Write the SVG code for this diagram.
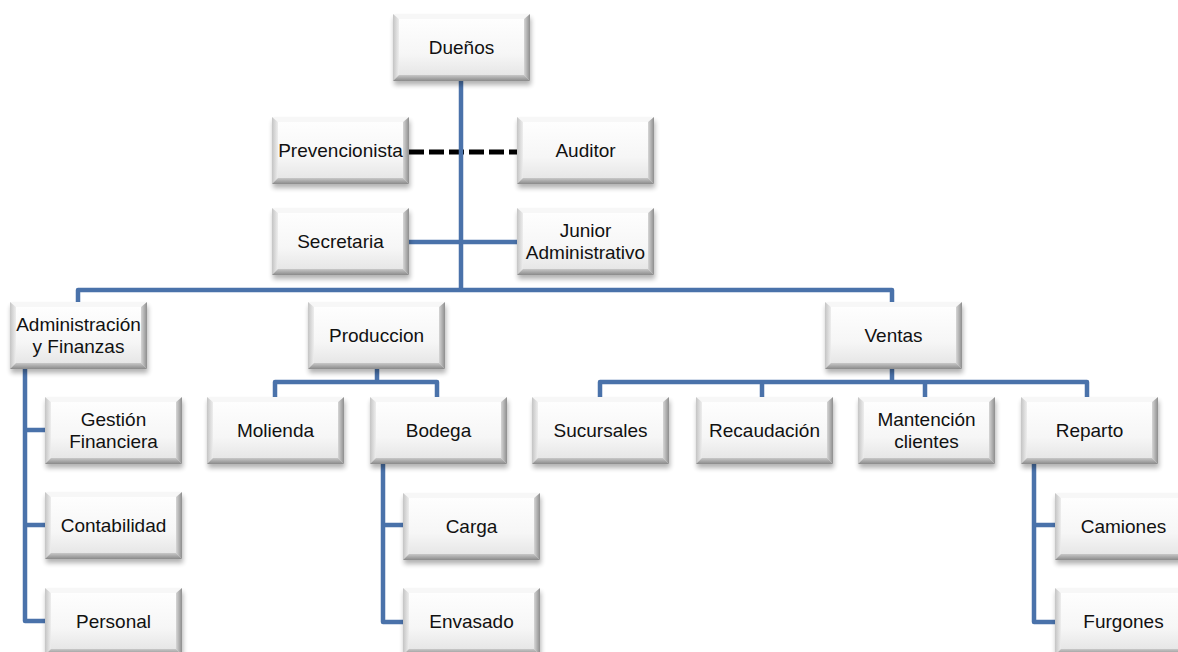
<svg xmlns="http://www.w3.org/2000/svg" xmlns:xlink="http://www.w3.org/1999/xlink" width="1178" height="652" viewBox="0 0 1178 652">
  <style>
    .lbl { font-family: "Liberation Sans", Arial, sans-serif; font-size: 19px; fill: #111; text-anchor: middle; }
    .link { fill: none; stroke: #4a72aa; stroke-width: 4.5; stroke-linejoin: round; stroke-linecap: butt; }
    .dash { fill: none; stroke: #000; stroke-width: 5; stroke-dasharray: 15 5; }
  </style>
  <defs>
    <linearGradient id="face" x1="0" y1="0" x2="0" y2="1">
      <stop offset="0" stop-color="#ffffff"/>
      <stop offset="0.6" stop-color="#f6f6f6"/>
      <stop offset="1" stop-color="#e2e2e2"/>
    </linearGradient>
    <linearGradient id="edgeL" x1="0" y1="0" x2="1" y2="0">
      <stop offset="0" stop-color="#c4c4c4"/>
      <stop offset="1" stop-color="#eeeeee"/>
    </linearGradient>
    <linearGradient id="edgeR" x1="0" y1="0" x2="1" y2="0">
      <stop offset="0" stop-color="#d6d6d6"/>
      <stop offset="1" stop-color="#8e8e8e"/>
    </linearGradient>
    <linearGradient id="edgeB" x1="0" y1="0" x2="0" y2="1">
      <stop offset="0" stop-color="#c8c8c8"/>
      <stop offset="1" stop-color="#8a8a8a"/>
    </linearGradient>
    <filter id="soft" x="-10%" y="-20%" width="120%" height="150%">
      <feGaussianBlur stdDeviation="2.5"/>
    </filter>
    <!-- bevelled box, 137 x 67 -->
    <g id="box">
      <rect x="1" y="4" width="137" height="67" fill="#000" opacity="0.3" filter="url(#soft)"/>
      <rect x="0" y="0" width="137" height="67" fill="url(#face)"/>
      <polygon points="0,0 137,0 131,5 6,5" fill="#f7f7f7"/>
      <polygon points="0,0 6,5 6,61 0,67" fill="url(#edgeL)"/>
      <polygon points="137,0 137,67 131,61 131,5" fill="url(#edgeR)"/>
      <polygon points="0,67 137,67 131,61 6,61" fill="url(#edgeB)"/>
    </g>
  </defs>

  <rect width="1178" height="652" fill="#ffffff"/>

  <!-- connectors -->
  <g id="connectors">
    <path class="dash" d="M409,152 H517"/>
    <path class="link" d="M461,81 V290"/>
    <path class="link" d="M78,302 V290 H892 V302"/>
    <path class="link" d="M409,242 H517"/>
    <path class="link" d="M25,368 V621 H45 M25,430 H45 M25,525 H45"/>
    <path class="link" d="M377,368 V382 M275,397 V382 H437 V397"/>
    <path class="link" d="M383,464 V622 H403 M383,525 H403"/>
    <path class="link" d="M892,369 V382 M600,397 V382 H1087 V397 M762,382 V397 M925,382 V397"/>
    <path class="link" d="M1034,464 V622 H1055 M1034,525 H1055"/>
  </g>

  <!-- nodes -->
  <g id="n-duenos" transform="translate(393,14)"><use href="#box"/><text class="lbl" x="68.5" y="40">Dueños</text></g>
  <g id="n-prevencionista" transform="translate(272,117)"><use href="#box"/><text class="lbl" x="68.5" y="40">Prevencionista</text></g>
  <g id="n-auditor" transform="translate(517,117)"><use href="#box"/><text class="lbl" x="68.5" y="40">Auditor</text></g>
  <g id="n-secretaria" transform="translate(272,208)"><use href="#box"/><text class="lbl" x="68.5" y="40">Secretaria</text></g>
  <g id="n-junior" transform="translate(517,208)"><use href="#box"/><text class="lbl" x="68.5" y="28.5">Junior</text><text class="lbl" x="68.5" y="50.5">Administrativo</text></g>

  <g id="n-admin" transform="translate(10,302)"><use href="#box"/><text class="lbl" x="68.5" y="28.5">Administración</text><text class="lbl" x="68.5" y="50.5">y Finanzas</text></g>
  <g id="n-produccion" transform="translate(308,302)"><use href="#box"/><text class="lbl" x="68.5" y="40">Produccion</text></g>
  <g id="n-ventas" transform="translate(825,302)"><use href="#box"/><text class="lbl" x="68.5" y="40">Ventas</text></g>

  <g id="n-gestion" transform="translate(45,397)"><use href="#box"/><text class="lbl" x="68.5" y="28.5">Gestión</text><text class="lbl" x="68.5" y="50.5">Financiera</text></g>
  <g id="n-contabilidad" transform="translate(45,492)"><use href="#box"/><text class="lbl" x="68.5" y="40">Contabilidad</text></g>
  <g id="n-personal" transform="translate(45,588)"><use href="#box"/><text class="lbl" x="68.5" y="40">Personal</text></g>

  <g id="n-molienda" transform="translate(207,397)"><use href="#box"/><text class="lbl" x="68.5" y="40">Molienda</text></g>
  <g id="n-bodega" transform="translate(370,397)"><use href="#box"/><text class="lbl" x="68.5" y="40">Bodega</text></g>
  <g id="n-carga" transform="translate(403,493)"><use href="#box"/><text class="lbl" x="68.5" y="40">Carga</text></g>
  <g id="n-envasado" transform="translate(403,588)"><use href="#box"/><text class="lbl" x="68.5" y="40">Envasado</text></g>

  <g id="n-sucursales" transform="translate(532,397)"><use href="#box"/><text class="lbl" x="68.5" y="40">Sucursales</text></g>
  <g id="n-recaudacion" transform="translate(696,397)"><use href="#box"/><text class="lbl" x="68.5" y="40">Recaudación</text></g>
  <g id="n-mantencion" transform="translate(858,397)"><use href="#box"/><text class="lbl" x="68.5" y="28.5">Mantención</text><text class="lbl" x="68.5" y="50.5">clientes</text></g>
  <g id="n-reparto" transform="translate(1021,397)"><use href="#box"/><text class="lbl" x="68.5" y="40">Reparto</text></g>
  <g id="n-camiones" transform="translate(1055,493)"><use href="#box"/><text class="lbl" x="68.5" y="40">Camiones</text></g>
  <g id="n-furgones" transform="translate(1055,588)"><use href="#box"/><text class="lbl" x="68.5" y="40">Furgones</text></g>
</svg>
